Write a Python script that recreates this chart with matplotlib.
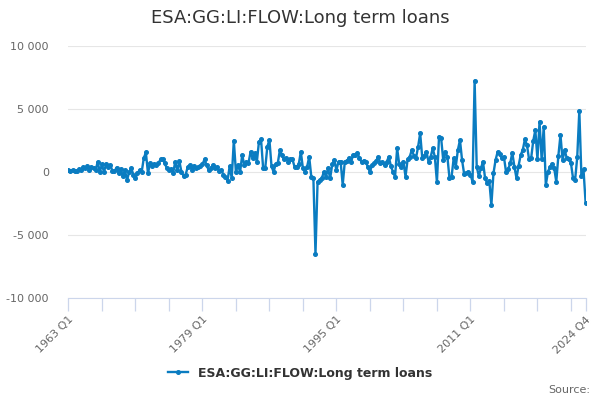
import matplotlib.pyplot as plt
import numpy as np

# quarterly values, 1963 Q1 .. 2024 Q4
values = [
    150, 100, 150, 100,        # 1963
    100, 200, 150, 400,        # 1964
    300, 500, 150, 400,        # 1965
    300, 150, 800, 0,          # 1966
    600, 0, 650, 400,          # 1967
    550, 100, 50, 350,         # 1968
    -100, 250, -350, 150,      # 1969
    -650, 0, 300, -200,        # 1970
    -500, -100, 150, 0,        # 1971
    1100, 1550, -100, 700,     # 1972
    500, 650, 550, 700,        # 1973
    1000, 1000, 700, 300,      # 1974
    150, 250, -100, 800,       # 1975
    150, 850, 0, -300,         # 1976
    -200, 400, 550, 150,       # 1977
    500, 300, 400, 500,        # 1978
    600, 1000, 550, 150,       # 1979
    300, 550, 300, 420,        # 1980
    50, 150, -200, -400,       # 1981
    -700, 450, -500, 2500,     # 1982
    0, 550, 0, 1350,           # 1983
    550, 800, 700, 1600,       # 1984
    1100, 1500, 800, 2400,     # 1985
    2600, 300, 300, 2000,      # 1986
    2550, 450, 0, 650,         # 1987
    700, 1750, 1350, 1000,     # 1988
    1100, 820, 1000, 1000,     # 1989
    420, 420, 600, 1600,       # 1990
    290, 30, 420, 1200,        # 1991
    -370, -500, -6500, -770,   # 1992
    -630, -500, 0, -370,       # 1993
    290, -500, 600, 950,       # 1994
    150, 820, 820, -1030,      # 1995
    820, 900, 1100, 820,       # 1996
    1350, 1350, 1530, 1100,    # 1997
    800, 900, 820, 400,        # 1998
    0, 550, 700, 900,          # 1999
    1200, 700, 800, 550,       # 2000
    800, 1200, 500, 0,         # 2001
    -370, 1880, 600, 420,      # 2002
    820, -370, 1000, 1200,     # 2003
    1750, 1300, 1100, 2000,    # 2004
    3070, 1100, 1300, 1600,    # 2005
    820, 1200, 1880, 1200,     # 2006
    -800, 2800, 2700, 950,     # 2007
    1600, 1200, -500, -370,    # 2008
    1090, 420, 1750, 2540,     # 2009
    950, -160, -100, 30,       # 2010
    -200, -770, 7250, 420,     # 2011
    -320, 300, 820, -500,      # 2012
    -900, -700, -2620, -100,   # 2013
    950, 1600, 1400, 1100,     # 2014
    1200, 0, 200, 700,         # 2015
    1530, 420, -500, 500,      # 2016
    1350, 1750, 2590, 2140,    # 2017
    1000, 1100, 2480, 3330,    # 2018
    1000, 4000, 1000, 3600,    # 2019
    -1030, 0, 420, 600,        # 2020
    300, -770, 1300, 2940,     # 2021
    950, 1750, 1100, 1000,     # 2022
    700, -500, -600, 1160,     # 2023
    4870, -320, 200, -2440,    # 2024
]
first_year = 1963
quarters = [f"{first_year + k // 4} Q{k % 4 + 1}" for k in range(len(values))]

label_pos = [0, 64, 128, 192, len(values) - 1]
tick_pos = list(range(0, len(values), 16)) + [len(values) - 1]
yticks = [-10000, -5000, 0, 5000, 10000]

color = '#0a7cc1'
grey = '#666666'

fig = plt.figure(figsize=(6, 4), dpi=100)
ax = fig.add_axes([0.114, 0.255, 0.862, 0.63])

x = np.arange(len(values))
ax.plot(x, values, color=color, lw=1.7, marker='o', ms=2.6,
        label='ESA:GG:LI:FLOW:Long term loans')

ax.set_xlim(0, len(values) - 1)
ax.set_ylim(-10000, 10000)
ax.tick_params(axis='y', length=0, pad=14)
ax.tick_params(axis='x', length=9, color='#ccd6eb', width=0.9, labelbottom=False)
ax.set_yticks(yticks)
ax.set_yticklabels([f"{v:,}".replace(',', ' ') for v in yticks],
                   color=grey, fontsize=8)
ax.grid(axis='y', color='#e6e6e6', lw=0.8)
ax.set_axisbelow(True)
ax.set_xticks(tick_pos)

# rotated category labels, hung below the tick marks
for p in label_pos:
    ax.text(p, -0.065, quarters[p], transform=ax.get_xaxis_transform(),
            rotation=45, rotation_mode='anchor', ha='right', va='top',
            color=grey, fontsize=8)

for s in ['top', 'right', 'left']:
    ax.spines[s].set_visible(False)
ax.spines['bottom'].set_color('#ccd6eb')

fig.text(0.5, 0.955, 'ESA:GG:LI:FLOW:Long term loans', ha='center', va='center',
         fontsize=13, color='#333333')

leg = fig.legend(loc='center', bbox_to_anchor=(0.5, 0.067), frameon=False,
                 handlelength=1.6, fontsize=9)
for t in leg.get_texts():
    t.set_fontweight('bold')
    t.set_color('#333333')

fig.text(0.983, 0.025, 'Source:', ha='right', va='center', fontsize=8, color=grey)

fig.savefig('out.png', dpi=100)
